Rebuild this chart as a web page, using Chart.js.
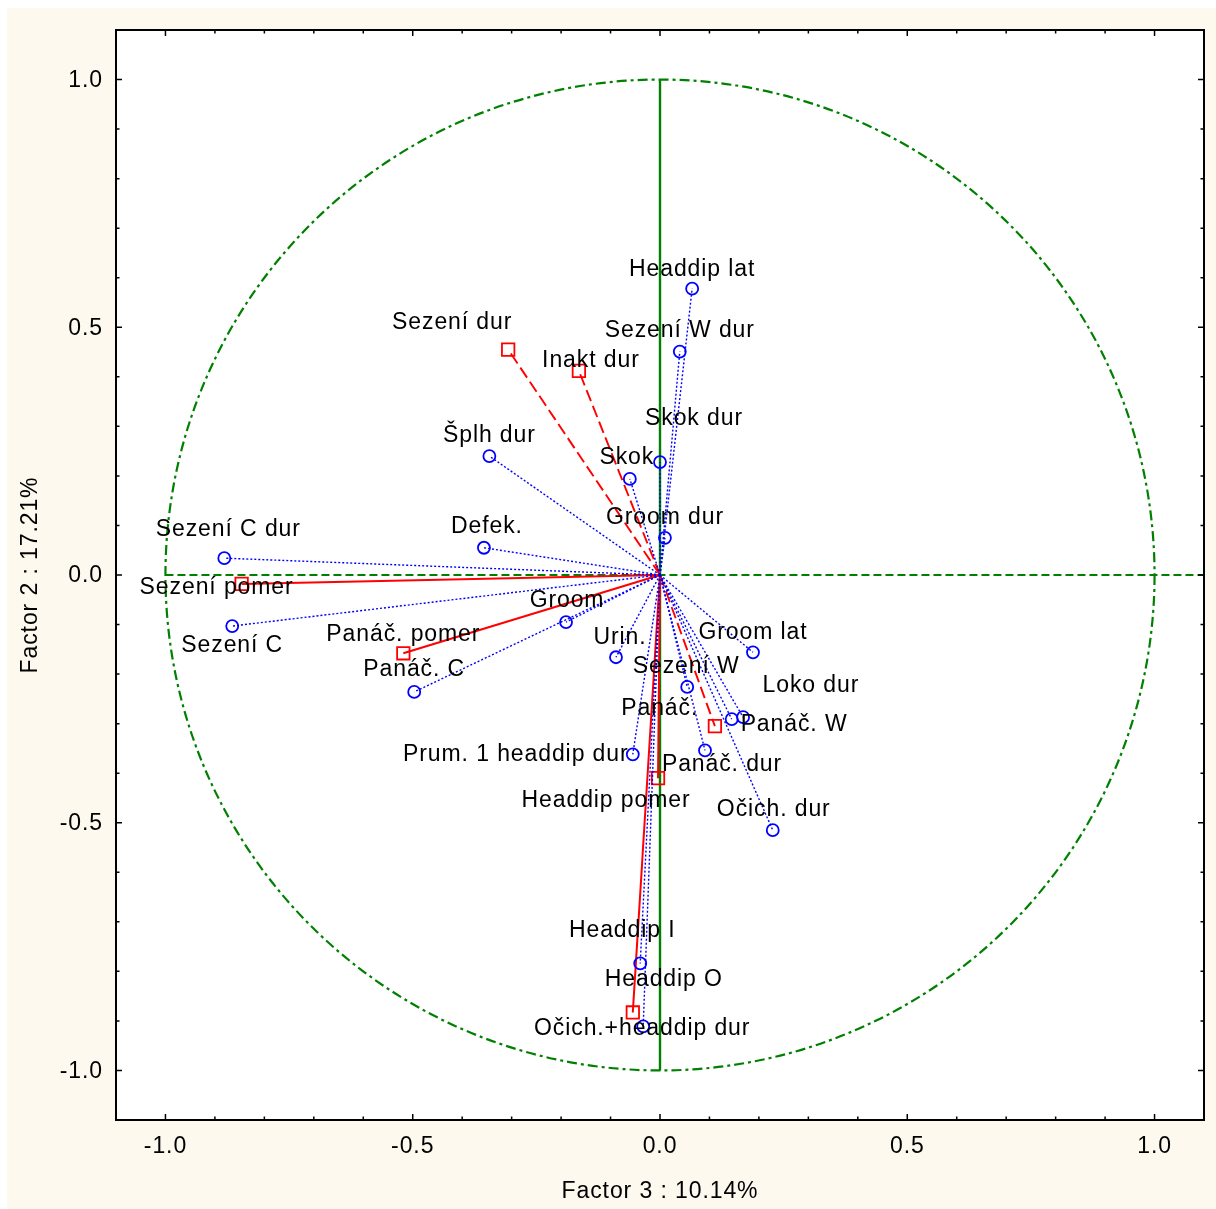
<!DOCTYPE html>
<html>
<head>
<meta charset="utf-8">
<title>Factor loadings: Factor 3 × Factor 2</title>
<script src="https://cdn.jsdelivr.net/npm/chart.js@4"></script>
<style>
  html, body { margin: 0; padding: 0; background: #ffffff; }
  canvas { display: block; }
</style>
</head>
<body>
<canvas id="chart" width="1216" height="1209"></canvas>
<script>
// Active variables (blue circles): loadings on Factor 3 (x) and Factor 2 (y)
const activeNames = [
  'Headdip lat', 'Sezení W dur', 'Skok dur', 'Skok', 'Groom dur', 'Šplh dur', 'Defek.',
  'Sezení C dur', 'Sezení C', 'Panáč. C', 'Groom', 'Urin.', 'Groom lat', 'Sezení W',
  'Panáč.', 'Panáč. W', 'Panáč. dur', 'Očich. dur', 'Prum. 1 headdip dur', 'Headdip I',
  'Očich.+headdip dur'
];
const activeF3 = [
  0.065, 0.040, 0.000, -0.061, 0.010, -0.345, -0.356,
  -0.881, -0.865, -0.497, -0.190, -0.089, 0.188, 0.055,
  0.145, 0.168, 0.091, 0.228, -0.055, -0.040,
  -0.034
];
const activeF2 = [
  0.578, 0.451, 0.228, 0.194, 0.075, 0.240, 0.055,
  0.034, -0.103, -0.236, -0.095, -0.166, -0.156, -0.226,
  -0.291, -0.287, -0.354, -0.515, -0.362, -0.784,
  -0.911
];

// Supplementary variables (red squares)
const supplNames = ['Sezení dur', 'Inakt dur', 'Sezení pomer', 'Panáč. pomer', 'Loko dur', 'Headdip pomer', 'Headdip O'];
const supplF3 = [-0.307, -0.164, -0.846, -0.519, 0.111, -0.004, -0.055];
const supplF2 = [0.455, 0.412, -0.018, -0.158, -0.305, -0.410, -0.883];

// Axis ticks and titles
const tickValues = [-1.0, -0.5, 0.0, 0.5, 1.0];
const tickLabels = ['-1.0', '-0.5', '0.0', '0.5', '1.0'];
const minorTickValues = [-1.0, -0.9, -0.8, -0.7, -0.6, -0.5, -0.4, -0.3, -0.2, -0.1, 0.0,
                         0.1, 0.2, 0.3, 0.4, 0.5, 0.6, 0.7, 0.8, 0.9, 1.0];
const xTitle = 'Factor 3 : 10.14%';
const yTitle = 'Factor 2 : 17.21%';

// ---- styling ----
const BLUE = '#0000ff';
const RED = '#ff0000';
const GREEN = '#008000';
const PANEL = '#fdf9ee';
const FONT = '23px "Liberation Sans", Arial, Helvetica, sans-serif';
const LETTER_SPACING = '0.9px';

// supplementary durations are drawn with dashed vectors
const dashedSuppl = new Set(['Sezení dur', 'Inakt dur', 'Loko dur']);

// label placement relative to the marker, in pixels (dx, dy of text centre)
const labelOffsets = {
  'Headdip lat': [0, -19], 'Sezení W dur': [0, -21], 'Skok dur': [34, -43], 'Skok': [-3, -21],
  'Groom dur': [0, -20], 'Šplh dur': [0, -20], 'Defek.': [3, -21], 'Sezení C dur': [4, -28],
  'Sezení C': [0, 20], 'Panáč. C': [0, -22], 'Groom': [1, -21], 'Urin.': [4, -20],
  'Groom lat': [0, -20], 'Sezení W': [-1, -20], 'Panáč.': [-72, -11], 'Panáč. W': [51, 7],
  'Panáč. dur': [17, 14], 'Očich. dur': [1, -21], 'Prum. 1 headdip dur': [-117, 0],
  'Headdip I': [-18, -33], 'Očich.+headdip dur': [-1, 2],
  'Sezení dur': [-56, -27], 'Inakt dur': [12, -10], 'Sezení pomer': [-25, 4],
  'Panáč. pomer': [0, -19], 'Loko dur': [96, -40], 'Headdip pomer': [-52, 23], 'Headdip O': [31, -33]
};

// one vector (origin -> loading) per variable
const datasets = [];
activeNames.forEach((name, i) => {
  datasets.push({
    label: name,
    data: [{ x: 0, y: 0 }, { x: activeF3[i], y: activeF2[i] }],
    showLine: true,
    borderColor: BLUE,
    borderWidth: 1.4,
    borderDash: [2, 2],
    pointRadius: [0, 6],
    pointStyle: 'circle',
    pointBorderColor: BLUE,
    pointBackgroundColor: 'rgba(0,0,0,0)',
    pointBorderWidth: 1.8
  });
});
supplNames.forEach((name, i) => {
  const dashed = dashedSuppl.has(name);
  datasets.push({
    label: name,
    data: [{ x: 0, y: 0 }, { x: supplF3[i], y: supplF2[i] }],
    showLine: true,
    borderColor: RED,
    borderWidth: dashed ? 1.9 : 2,
    borderDash: dashed ? [12, 5] : [],
    pointRadius: [0, 8.8],
    pointStyle: 'rect',
    pointBorderColor: RED,
    pointBackgroundColor: 'rgba(0,0,0,0)',
    pointBorderWidth: 1.8
  });
});

function drawText(ctx, text, x, y, align) {
  ctx.save();
  ctx.font = FONT;
  ctx.letterSpacing = LETTER_SPACING;
  ctx.fillStyle = '#000000';
  ctx.textAlign = align || 'center';
  ctx.textBaseline = 'middle';
  ctx.fillText(text, x, y);
  ctx.restore();
}

const decorations = {
  id: 'decorations',
  beforeDraw(chart) {
    const { ctx, chartArea: a } = chart;
    ctx.save();
    ctx.fillStyle = '#ffffff';
    ctx.fillRect(0, 0, chart.width, chart.height);
    ctx.fillStyle = PANEL;
    ctx.fillRect(7, 8, chart.width - 7, chart.height - 8);
    ctx.fillStyle = '#ffffff';
    ctx.fillRect(a.left, a.top, a.right - a.left, a.bottom - a.top);
    ctx.restore();
  },
  beforeDatasetsDraw(chart) {
    const { ctx, scales: { x, y } } = chart;
    const cx = x.getPixelForValue(0);
    const cy = y.getPixelForValue(0);
    ctx.save();
    ctx.strokeStyle = GREEN;
    ctx.lineWidth = 2.2;
    // unit circle of correlations
    ctx.setLineDash([10, 4, 3, 4]);
    ctx.beginPath();
    ctx.ellipse(cx, cy, x.getPixelForValue(1) - cx, cy - y.getPixelForValue(1), 0, 0, Math.PI * 2);
    ctx.stroke();
    // horizontal zero line
    ctx.setLineDash([8, 4]);
    ctx.beginPath();
    ctx.moveTo(x.getPixelForValue(-1), cy);
    ctx.lineTo(x.getPixelForValue(1.1), cy);
    ctx.stroke();
    // vertical zero line
    ctx.setLineDash([]);
    ctx.lineWidth = 2.4;
    ctx.beginPath();
    ctx.moveTo(cx, y.getPixelForValue(1));
    ctx.lineTo(cx, y.getPixelForValue(-1));
    ctx.stroke();
    ctx.restore();
  },
  afterDatasetsDraw(chart) {
    const { ctx, chartArea: a, scales: { x, y } } = chart;

    // variable labels
    const put = (name, vx, vy) => {
      const off = labelOffsets[name] || [0, -20];
      drawText(ctx, name, x.getPixelForValue(vx) + off[0], y.getPixelForValue(vy) + off[1], 'center');
    };
    activeNames.forEach((n, i) => put(n, activeF3[i], activeF2[i]));
    supplNames.forEach((n, i) => put(n, supplF3[i], supplF2[i]));

    // frame
    ctx.save();
    ctx.strokeStyle = '#000000';
    ctx.lineWidth = 2;
    ctx.setLineDash([]);
    ctx.strokeRect(a.left, a.top, a.right - a.left, a.bottom - a.top);

    // inward ticks on all four sides
    ctx.lineWidth = 1.5;
    minorTickValues.forEach(v => {
      const major = tickValues.some(t => Math.abs(t - v) < 1e-9);
      const len = major ? 6 : 3.5;
      const px = x.getPixelForValue(v);
      const py = y.getPixelForValue(v);
      ctx.beginPath();
      ctx.moveTo(px, a.bottom); ctx.lineTo(px, a.bottom - len);
      ctx.moveTo(px, a.top); ctx.lineTo(px, a.top + len);
      ctx.moveTo(a.left, py); ctx.lineTo(a.left + len, py);
      ctx.moveTo(a.right, py); ctx.lineTo(a.right - len, py);
      ctx.stroke();
    });
    ctx.restore();

    // tick labels
    tickValues.forEach((v, i) => {
      drawText(ctx, tickLabels[i], x.getPixelForValue(v), a.bottom + 27, 'center');
      drawText(ctx, tickLabels[i], a.left - 13, y.getPixelForValue(v) + 1, 'right');
    });

    // axis titles
    drawText(ctx, xTitle, (a.left + a.right) / 2, a.bottom + 72, 'center');
    ctx.save();
    ctx.translate(31, (a.top + a.bottom) / 2);
    ctx.rotate(-Math.PI / 2);
    drawText(ctx, yTitle, 0, 0, 'center');
    ctx.restore();
  }
};

new Chart(document.getElementById('chart'), {
  type: 'scatter',
  data: { datasets },
  options: {
    responsive: false,
    animation: false,
    events: [],
    layout: { padding: { left: 116, right: 12, top: 30, bottom: 89 } },
    scales: {
      x: { type: 'linear', min: -1.1, max: 1.1, display: false },
      y: { type: 'linear', min: -1.1, max: 1.1, display: false }
    },
    plugins: {
      legend: { display: false },
      tooltip: { enabled: false }
    }
  },
  plugins: [decorations]
});
</script>
</body>
</html>
